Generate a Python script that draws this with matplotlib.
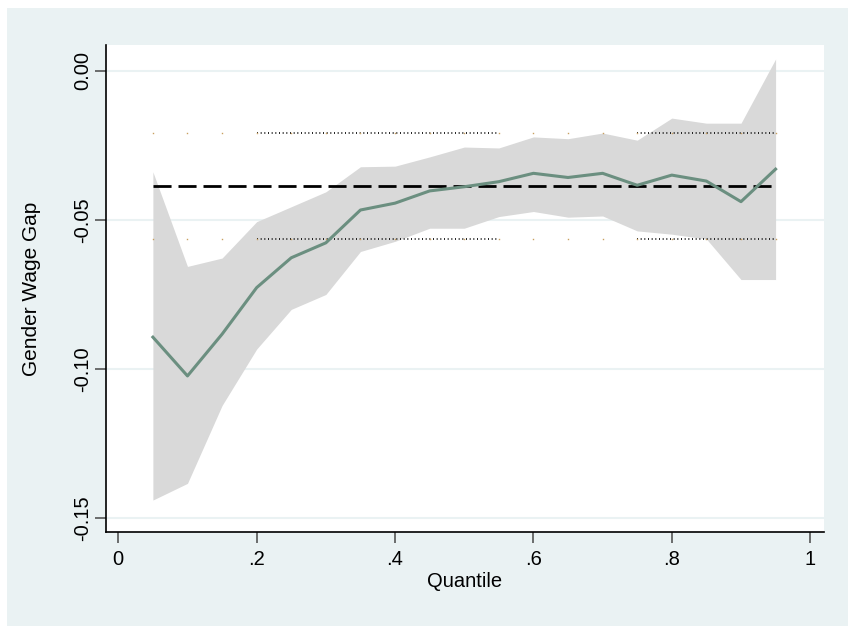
import matplotlib
matplotlib.use("Agg")
import matplotlib.pyplot as plt
from matplotlib.patches import Rectangle
import numpy as np

plt.rcParams['font.family'] = ['Liberation Sans', 'DejaVu Sans']

quantiles = [0.05, 0.10, 0.15, 0.20, 0.25, 0.30, 0.35, 0.40, 0.45, 0.50,
             0.55, 0.60, 0.65, 0.70, 0.75, 0.80, 0.85, 0.90, 0.95]
coef = [-0.0893, -0.1023, -0.0883, -0.0727, -0.0627, -0.0577, -0.0467, -0.0444,
        -0.0403, -0.0389, -0.0372, -0.0344, -0.0358, -0.0344, -0.0384, -0.0350,
        -0.0370, -0.0439, -0.0330]
ci_upper = [-0.0339, -0.0656, -0.0628, -0.0506, -0.0456, -0.0406, -0.0322, -0.0320,
            -0.0289, -0.0256, -0.0259, -0.0222, -0.0228, -0.0209, -0.0233, -0.0159,
            -0.0176, -0.0176, 0.0039]
ci_lower = [-0.1439, -0.1383, -0.1122, -0.0933, -0.0800, -0.0750, -0.0606, -0.0572,
            -0.0528, -0.0528, -0.0489, -0.0472, -0.0491, -0.0487, -0.0537, -0.0548,
            -0.0564, -0.0700, -0.0700]
ols_coef = -0.0387
ols_upper = -0.0209
ols_lower = -0.0563
# quantile ranges where the dotted OLS CI lines are visibly drawn
dotted_ranges = [(0.20, 0.55), (0.75, 0.95)]

yticks = [0.00, -0.05, -0.10, -0.15]
ytick_labels = ["0.00", "-0.05", "-0.10", "-0.15"]
xticks = [0, 0.2, 0.4, 0.6, 0.8, 1.0]
xtick_labels = ["0", ".2", ".4", ".6", ".8", "1"]

fig = plt.figure(figsize=(8.48, 6.26), dpi=100, facecolor="white")
bg = Rectangle((7/848, 0), 841/848, 618/626, transform=fig.transFigure,
               facecolor="#EAF2F3", edgecolor="none", zorder=-10)
fig.patches.append(bg)

ax = fig.add_axes([105.7/848, 1 - 532/626, (824.3 - 105.7)/848, (532 - 45)/626])
ax.set_facecolor("white")

q = np.array(quantiles)
ax.fill_between(q, ci_lower, ci_upper, color="#D9D9D9", linewidth=0, zorder=2)

ax.plot([q[0], q[-1]], [ols_coef, ols_coef], color="black", lw=2,
        dashes=(6.5, 2.5), zorder=3)
for lo, hi in dotted_ranges:
    for yv in (ols_upper, ols_lower):
        ax.plot([lo, hi], [yv, yv], color="black", lw=1.2, dashes=(0.6, 1.6), zorder=3)
for yv in (ols_upper, ols_lower):
    ax.plot(q, [yv] * len(q), linestyle="none", marker="s", ms=1.0,
            color="#C8A060", mec="none", zorder=3)

ax.plot(q, coef, color="#6B8F80", lw=2.2, zorder=4)

ax.set_xlim(-0.0182, 1.0204)
ax.set_ylim(-0.1546, 0.0086)

ax.set_yticks(yticks)
ax.set_yticklabels(ytick_labels, rotation=90, va="center")
ax.set_xticks(xticks)
ax.set_xticklabels(xtick_labels)
ax.tick_params(axis="both", which="major", length=8, width=1.2, color="#555555",
               labelsize=14.5, direction="out")
ax.tick_params(axis="y", pad=2)
ax.tick_params(axis="x", pad=5)
ax.grid(axis="y", color="#EAF2F3", lw=1.5, zorder=0)
ax.set_axisbelow(True)

for s in ("top", "right"):
    ax.spines[s].set_visible(False)
for s in ("left", "bottom"):
    ax.spines[s].set_color("black")
    ax.spines[s].set_linewidth(1.2)

ax.set_xlabel("Quantile", fontsize=14.5, labelpad=2)
ax.set_ylabel("Gender Wage Gap", fontsize=15, labelpad=23)

fig.savefig("out.png", dpi=100, facecolor="white")
